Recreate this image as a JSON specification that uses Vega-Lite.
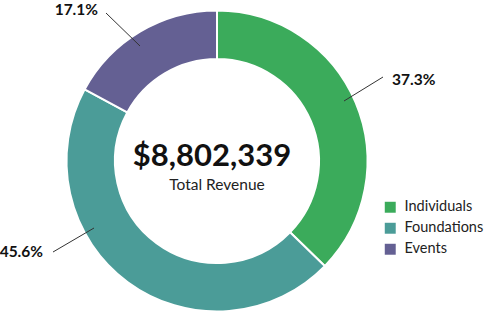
{
  "$schema": "https://vega.github.io/schema/vega-lite/v6.json",
  "width": 434,
  "height": 312,
  "autosize": {"type": "none"},
  "padding": {"left": 0, "top": 5, "right": 50, "bottom": 0},
  "background": "white",
  "config": {"view": {"stroke": null}, "font": "Lato"},
  "datasets": {
    "segments": [
      {"source": "Individuals", "share": 37.3, "order": 1},
      {"source": "Foundations", "share": 45.6, "order": 2},
      {"source": "Events", "share": 17.1, "order": 3}
    ],
    "leaders": [
      {"source": "Individuals", "x1": 127, "y1": 60, "x2": 166, "y2": 84},
      {"source": "Events", "x1": -77, "y1": 115, "x2": -111, "y2": 148},
      {"source": "Foundations", "x1": -123, "y1": -67, "x2": -164, "y2": -91}
    ],
    "labels": [
      {"label": "37.3%", "x": 175, "y": 81.5, "side": "left"},
      {"label": "17.1%", "x": -119, "y": 151.5, "side": "right"},
      {"label": "45.6%", "x": -174, "y": -91, "side": "right"}
    ],
    "center": [{"text": "$8,802,339"}],
    "sub": [{"text": "Total Revenue"}]
  },
  "layer": [
    {
      "data": {"name": "segments"},
      "mark": {"type": "arc", "outerRadius": 150.5, "innerRadius": 102, "stroke": "white", "strokeWidth": 2},
      "encoding": {
        "theta": {"field": "share", "type": "quantitative", "stack": true},
        "order": {"field": "order", "type": "quantitative"},
        "color": {
          "field": "source",
          "type": "nominal",
          "scale": {"domain": ["Individuals", "Foundations", "Events"], "range": ["#3bab5b", "#4b9c98", "#646093"]},
          "legend": {
            "title": null,
            "orient": "none",
            "legendX": 383,
            "legendY": 195,
            "symbolType": "square",
            "symbolSize": 120,
            "symbolStrokeWidth": 0,
            "labelFontSize": 14.5,
            "labelFont": "Lato",
            "labelColor": "#222",
            "labelLimit": 200,
            "rowPadding": 6,
            "labelOffset": 7
          }
        }
      }
    },
    {
      "data": {"name": "leaders"},
      "mark": {"type": "rule", "stroke": "#333", "strokeWidth": 1},
      "encoding": {
        "x": {"field": "x1", "type": "quantitative", "scale": {"domain": [-217, 217], "nice": false, "zero": false}, "axis": null},
        "y": {"field": "y1", "type": "quantitative", "scale": {"domain": [-156, 156], "nice": false, "zero": false}, "axis": null},
        "x2": {"field": "x2"},
        "y2": {"field": "y2"}
      }
    },
    {
      "data": {"name": "labels"},
      "transform": [{"filter": "datum.side === 'left'"}],
      "mark": {"type": "text", "align": "left", "baseline": "middle", "fontSize": 15.5, "fontWeight": "bold", "font": "Lato", "color": "#111"},
      "encoding": {
        "x": {"field": "x", "type": "quantitative"},
        "y": {"field": "y", "type": "quantitative"},
        "text": {"field": "label"}
      }
    },
    {
      "data": {"name": "labels"},
      "transform": [{"filter": "datum.side === 'right'"}],
      "mark": {"type": "text", "align": "right", "baseline": "middle", "fontSize": 15.5, "fontWeight": "bold", "font": "Lato", "color": "#111"},
      "encoding": {
        "x": {"field": "x", "type": "quantitative"},
        "y": {"field": "y", "type": "quantitative"},
        "text": {"field": "label"}
      }
    },
    {
      "data": {"name": "center"},
      "mark": {"type": "text", "align": "center", "baseline": "middle", "fontSize": 31, "fontWeight": "bold", "font": "Lato", "color": "#111", "dy": -4, "dx": -5},
      "encoding": {"text": {"field": "text"}}
    },
    {
      "data": {"name": "sub"},
      "mark": {"type": "text", "align": "center", "baseline": "middle", "fontSize": 15.5, "font": "Lato", "color": "#222", "dy": 24},
      "encoding": {"text": {"field": "text"}}
    }
  ]
}
